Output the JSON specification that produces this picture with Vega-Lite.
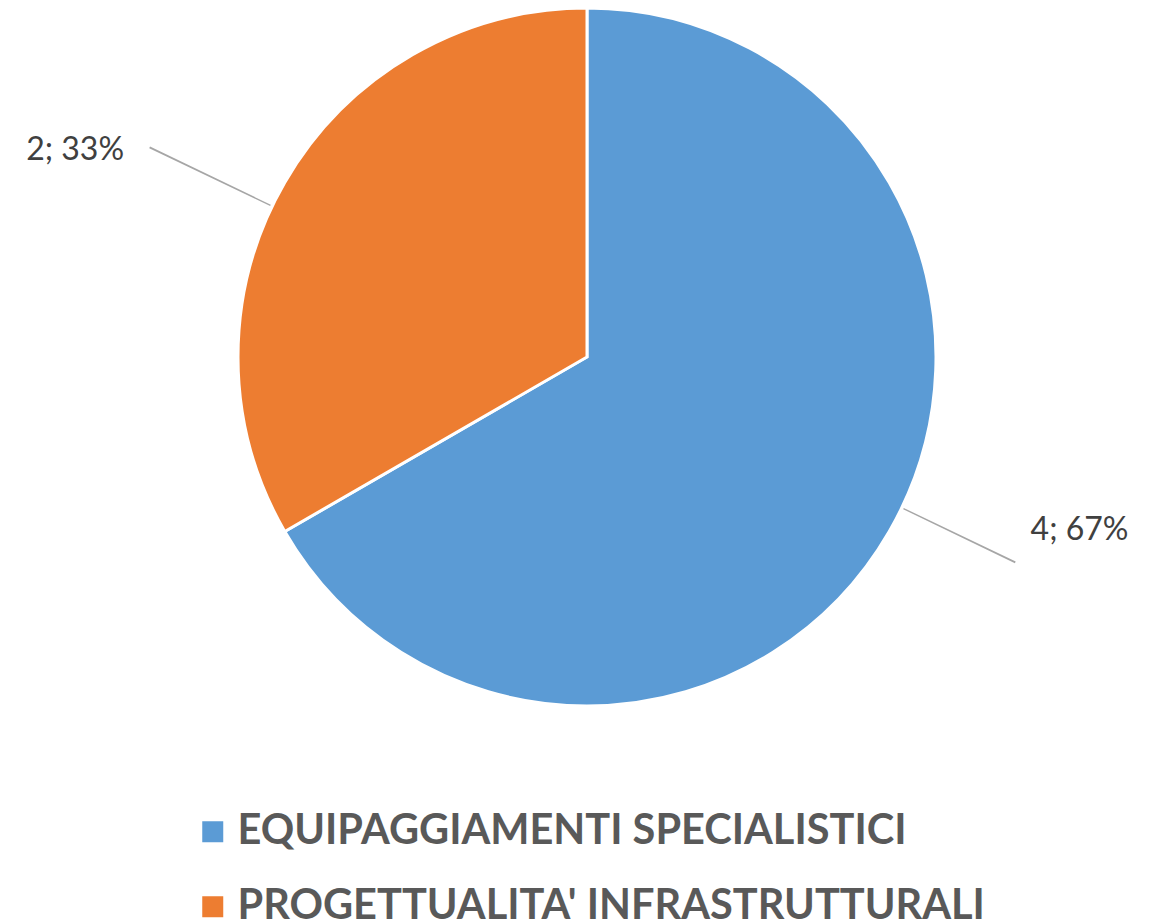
{
  "$schema": "https://vega.github.io/schema/vega-lite/v6.json",
  "autosize": {"type": "none"},
  "padding": {"left": 0, "top": 0, "right": 0, "bottom": 207},
  "width": 1174,
  "height": 714,
  "background": "white",
  "data": {"values": [
    {"categoria": "EQUIPAGGIAMENTI SPECIALISTICI", "valore": 4, "etichetta": "4; 67%"},
    {"categoria": "PROGETTUALITA' INFRASTRUTTURALI", "valore": 2, "etichetta": "2; 33%"}
  ]},
  "resolve": {"scale": {"theta": "independent"}},
  "encoding": {
    "theta": {"field": "valore", "type": "quantitative", "stack": true},
    "order": {"field": "categoria", "type": "nominal", "sort": "ascending"}
  },
  "layer": [
    {
      "mark": {"type": "arc", "outerRadius": 349, "stroke": "white", "strokeWidth": 3},
      "encoding": {
        "color": {
          "field": "categoria", "type": "nominal",
          "scale": {"domain": ["EQUIPAGGIAMENTI SPECIALISTICI", "PROGETTUALITA' INFRASTRUTTURALI"], "range": ["#5B9BD5", "#ED7D31"]},
          "legend": {
            "title": null,
            "orient": "none",
            "legendX": 192,
            "legendY": 811,
            "direction": "vertical",
            "symbolType": "square",
            "symbolSize": 441,
            "symbolStrokeWidth": 0,
            "labelFont": "Lato",
            "labelFontWeight": "bold",
            "labelFontSize": 41.5,
            "labelColor": "#595959",
            "labelLimit": 1000,
            "labelOffset": 4,
            "rowPadding": 32
          }
        }
      }
    },
    {
      "transform": [{"filter": "datum.valore == 2"}],
      "mark": {"type": "arc", "innerRadius": 351, "outerRadius": 485, "thetaOffset": 5.1574, "color": "#A6A6A6"},
      "encoding": {
        "theta": {"field": "valore", "type": "quantitative", "stack": true, "scale": {"domain": [0, 3307]}}
      }
    },
    {
      "transform": [{"filter": "datum.valore == 4"}],
      "mark": {"type": "arc", "innerRadius": 351, "outerRadius": 475, "thetaOffset": 2.0159, "color": "#A6A6A6"},
      "encoding": {
        "theta": {"field": "valore", "type": "quantitative", "stack": true, "scale": {"domain": [0, 6614]}}
      }
    },
    {
      "mark": {"type": "text", "radius": 552, "thetaOffset": -0.14, "font": "Lato", "fontSize": 32, "color": "#404040", "align": "center", "baseline": "middle"},
      "encoding": {
        "text": {"condition": {"test": "datum.valore == 2", "field": "etichetta"}, "value": ""}
      }
    },
    {
      "mark": {"type": "text", "radius": 522, "thetaOffset": -0.186, "font": "Lato", "fontSize": 32, "color": "#404040", "align": "center", "baseline": "middle"},
      "encoding": {
        "text": {"condition": {"test": "datum.valore == 4", "field": "etichetta"}, "value": ""}
      }
    }
  ]
}
